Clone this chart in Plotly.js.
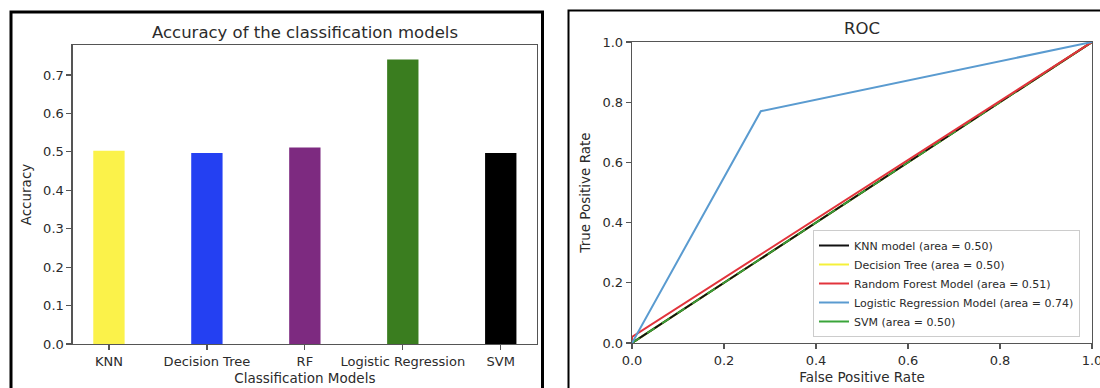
<!DOCTYPE html>
<html>
<head>
<meta charset="utf-8">
<script src="https://cdn.plot.ly/plotly-3.0.1.min.js"></script>
<style>html,body{margin:0;padding:0;background:#fff;}#chart{width:1100px;height:388px;}</style>
</head>
<body>
<div id="chart"></div>
<script>
// Bar chart data
const models = ["KNN", "Decision Tree", "RF", "Logistic Regression", "SVM"];
const accuracy = [0.503, 0.497, 0.511, 0.740, 0.497];
const barColors = ["#fbf24a", "#2440f2", "#7d2a80", "#3a7d1f", "#000000"];

// ROC data
const knnFpr = [0, 1];
const knnTpr = [0, 1];
const dtFpr = [0, 1];
const dtTpr = [0, 1];
const rfFpr = [0, 0, 1];
const rfTpr = [0, 0.02, 1];
const lrFpr = [0, 0.28, 1];
const lrTpr = [0, 0.77, 1];
const svmFpr = [0, 1];
const svmTpr = [0, 1];
const refLine = [0, 1];
const rocNames = ["KNN model (area = 0.50)", "Decision Tree (area = 0.50)", "Random Forest Model (area = 0.51)",
                  "Logistic Regression Model (area = 0.74)", "SVM (area = 0.50)"];
const rocColors = ["#111111", "#f5f03a", "#e2343c", "#5a9bd0", "#3aa53a"];

const W = 1100, H = 388;
const font = "DejaVu Sans, sans-serif";
const txt = "#2b2b2b";
const axc = "#555555";

const traces = [
  {type: "bar", x: models, y: accuracy, width: 0.32, marker: {color: barColors, line: {width: 0}},
   xaxis: "x", yaxis: "y", showlegend: false, hoverinfo: "x+y"},
  {type: "scatter", mode: "lines", x: svmFpr, y: svmTpr, name: rocNames[4], line: {color: rocColors[4], width: 2}, xaxis: "x2", yaxis: "y2", legendrank: 5},
  {type: "scatter", mode: "lines", x: dtFpr, y: dtTpr, name: rocNames[1], line: {color: rocColors[1], width: 2}, xaxis: "x2", yaxis: "y2", legendrank: 2},
  {type: "scatter", mode: "lines", x: knnFpr, y: knnTpr, name: rocNames[0], line: {color: rocColors[0], width: 2}, xaxis: "x2", yaxis: "y2", legendrank: 1},
  {type: "scatter", mode: "lines", x: refLine, y: refLine, showlegend: false, line: {color: "#3aa53a", width: 1.6, dash: "dash"}, xaxis: "x2", yaxis: "y2"},
  {type: "scatter", mode: "lines", x: rfFpr, y: rfTpr, name: rocNames[2], line: {color: rocColors[2], width: 2}, xaxis: "x2", yaxis: "y2", legendrank: 3},
  {type: "scatter", mode: "lines", x: lrFpr, y: lrTpr, name: rocNames[3], line: {color: rocColors[3], width: 2}, xaxis: "x2", yaxis: "y2", legendrank: 4}
];

const axCommon = {
  showline: true, mirror: true, linecolor: axc, linewidth: 1.3,
  ticks: "outside", ticklen: 5, tickwidth: 1.2, tickcolor: axc,
  showgrid: false, zeroline: false,
  tickfont: {family: font, size: 13, color: txt},
  ticklabeloverflow: "allow",
  fixedrange: true
};

const layout = {
  width: W, height: H,
  margin: {l: 0, r: 0, t: 0, b: 0},
  paper_bgcolor: "#ffffff", plot_bgcolor: "#ffffff",
  font: {family: font, color: txt},
  xaxis: Object.assign({}, axCommon, {
    domain: [72.7 / W, 537 / W], anchor: "y", type: "category", range: [-0.37, 4.37],
    title: {text: "Classification Models", font: {family: font, size: 13.5, color: txt}, standoff: 5}
  }),
  yaxis: Object.assign({}, axCommon, {
    domain: [1 - 344 / H, 1 - 45 / H], anchor: "x", range: [0, 0.778], dtick: 0.1, tick0: 0, tickformat: ".1f",
    title: {text: "Accuracy", font: {family: font, size: 13.5, color: txt}, standoff: 8}
  }),
  xaxis2: Object.assign({}, axCommon, {
    domain: [632 / W, 1092 / W], anchor: "y2", range: [0, 1], dtick: 0.2, tick0: 0, tickformat: ".1f",
    title: {text: "False Positive Rate", font: {family: font, size: 13.5, color: txt}, standoff: 5}
  }),
  yaxis2: Object.assign({}, axCommon, {
    domain: [1 - 343 / H, 1 - 42 / H], anchor: "x2", range: [0, 1], dtick: 0.2, tick0: 0, tickformat: ".1f",
    title: {text: "True Positive Rate", font: {family: font, size: 13.5, color: txt}, standoff: 8}
  }),
  legend: {
    x: 1080 / W, xanchor: "right", y: 1 - 337 / H, yanchor: "bottom",
    bgcolor: "rgba(255,255,255,0.9)", bordercolor: "#cccccc", borderwidth: 1,
    font: {family: font, size: 11, color: txt}, traceorder: "normal"
  },
  annotations: [
    {text: "Accuracy of the classification models", xref: "paper", yref: "paper",
     x: 304.8 / W, y: 1 - 32 / H, xanchor: "center", yanchor: "middle", showarrow: false,
     font: {family: font, size: 16.5, color: txt}},
    {text: "ROC", xref: "paper", yref: "paper",
     x: 862 / W, y: 1 - 29 / H, xanchor: "center", yanchor: "middle", showarrow: false,
     font: {family: font, size: 16.5, color: txt}}
  ],
  shapes: [
    {type: "rect", xref: "paper", yref: "paper", x0: 11 / W, x1: 542.5 / W, y0: -0.05, y1: 1 - 12 / H,
     line: {color: "#000000", width: 3}, fillcolor: "rgba(0,0,0,0)", layer: "above"},
    {type: "rect", xref: "paper", yref: "paper", x0: 568.5 / W, x1: 1.05, y0: -0.05, y1: 1 - 10.5 / H,
     line: {color: "#000000", width: 2}, fillcolor: "rgba(0,0,0,0)", layer: "above"}
  ],
  showlegend: true
};

Plotly.newPlot("chart", traces, layout, {displayModeBar: false, staticPlot: true});
</script>
</body>
</html>
